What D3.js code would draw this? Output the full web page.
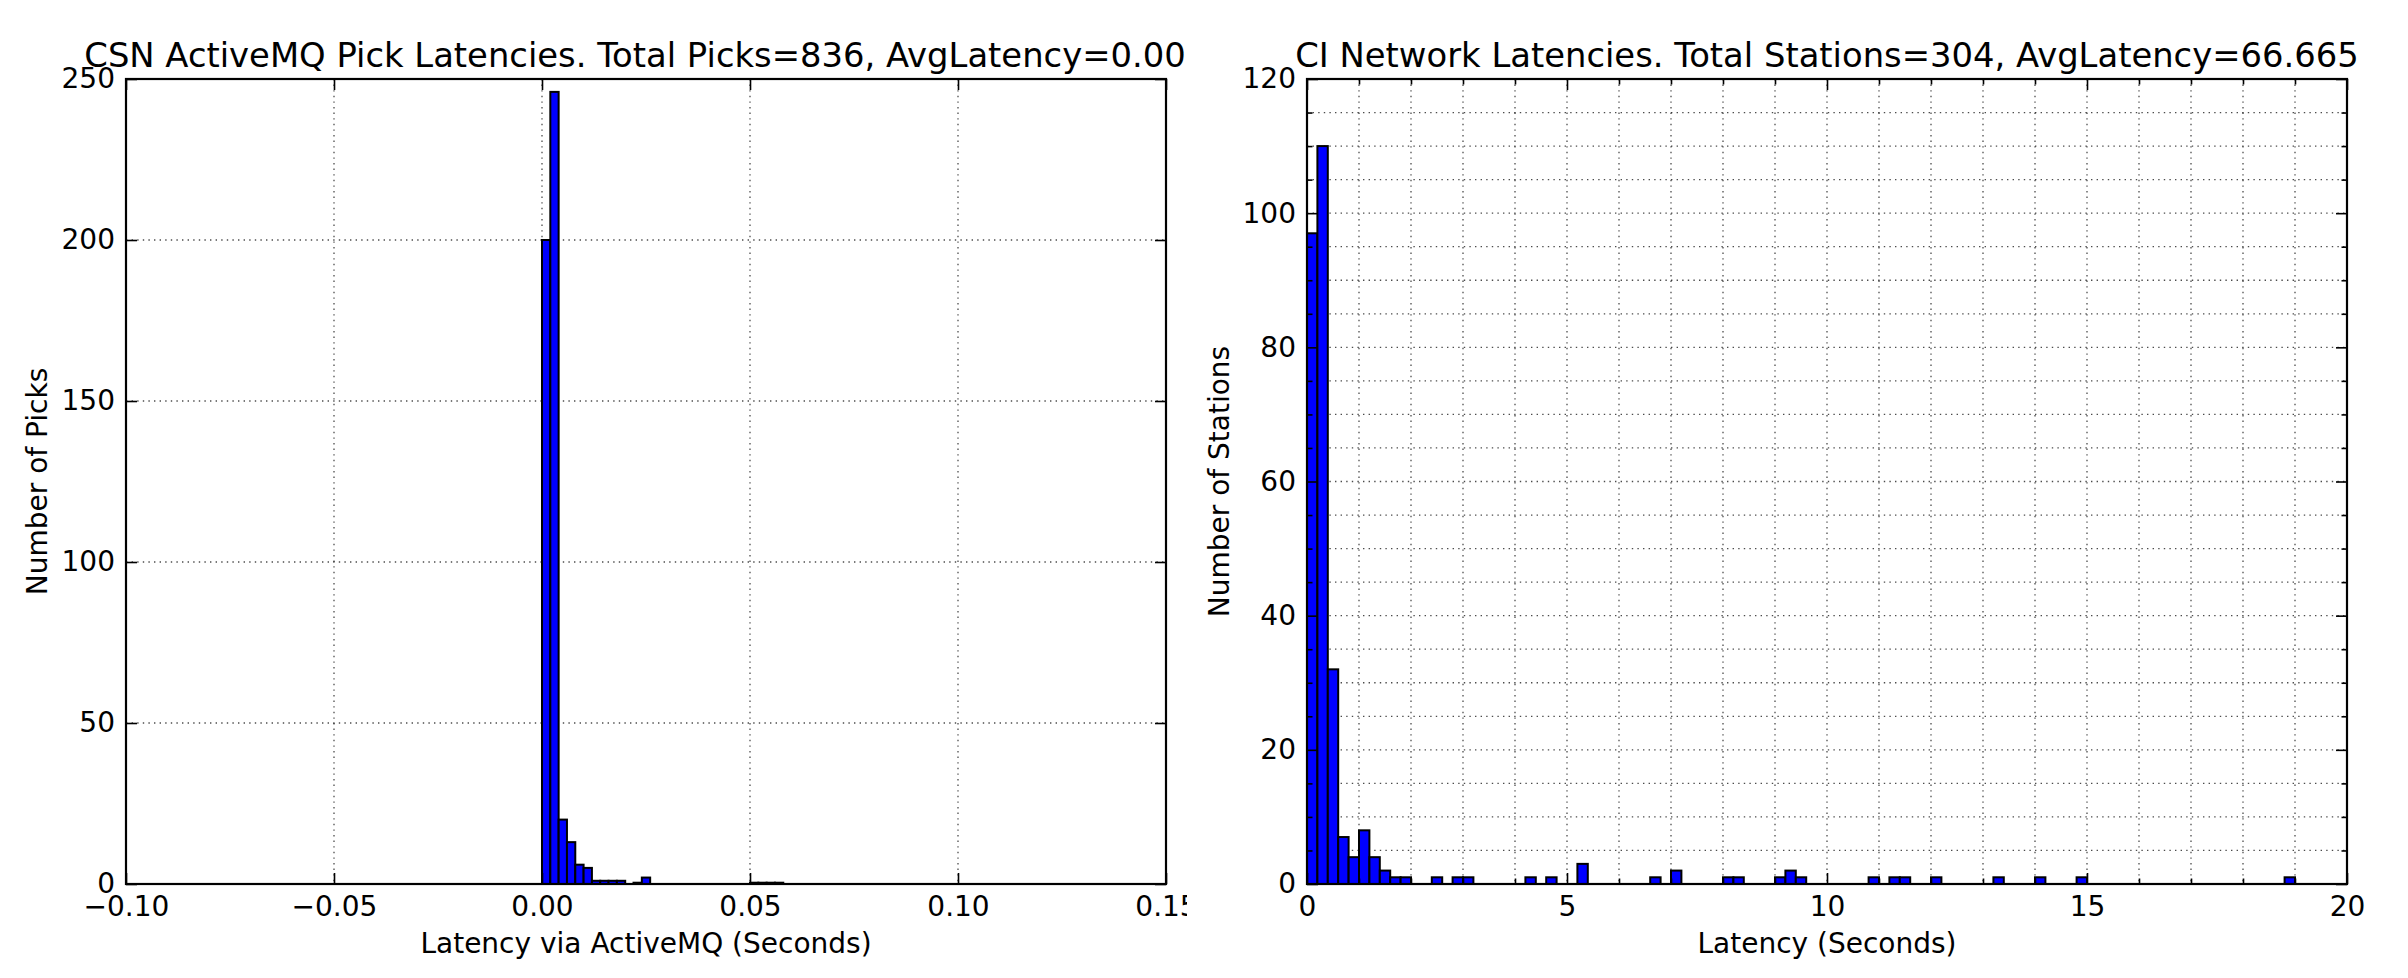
<!DOCTYPE html>
<html><head><meta charset="utf-8">
<script src="https://cdn.jsdelivr.net/npm/d3@7"></script>
<style>
html,body{margin:0;padding:0;background:#fff}
svg{display:block}
text{font-family:"DejaVu Sans",sans-serif;fill:#000}
</style>
</head><body>
<svg id="chart" width="2408" height="978"></svg>
<script>
// ---------------- DATA ----------------
// Left: CSN ActiveMQ pick latencies (seconds), histogram bins of width 0.002 starting at 0
const pickTitle = "CSN ActiveMQ Pick Latencies. Total Picks=836, AvgLatency=0.00";
const pickXLabel = "Latency via ActiveMQ (Seconds)";
const pickYLabel = "Number of Picks";
const pickBinStart = 0.0;
const pickBinWidth = 0.002;
const pickCounts = [200, 246, 20, 13, 6, 5, 1, 1, 1, 1, 0, 0.4, 2, 0, 0, 0, 0, 0, 0, 0, 0, 0, 0, 0, 0, 0.4, 0.4, 0.4, 0.4];
const pickXDomain = [-0.10, 0.15];
const pickXTicks = [-0.10, -0.05, 0.00, 0.05, 0.10, 0.15];
const pickYDomain = [0, 250];
const pickYTicks = [0, 50, 100, 150, 200, 250];

// Right: CI network station latencies (seconds), histogram bins of width 0.2 starting at 0
const stationTitle = "CI Network Latencies. Total Stations=304, AvgLatency=66.665";
const stationXLabel = "Latency (Seconds)";
const stationYLabel = "Number of Stations";
const stationBinStart = 0.0;
const stationBinWidth = 0.2;
const stationCounts = [
  97, 110, 32, 7, 4, 8, 4, 2, 1, 1,
  0, 0, 1, 0, 1, 1, 0, 0, 0, 0,
  0, 1, 0, 1, 0, 0, 3, 0, 0, 0,
  0, 0, 0, 1, 0, 2, 0, 0, 0, 0,
  1, 1, 0, 0, 0, 1, 2, 1, 0, 0,
  0, 0, 0, 0, 1, 0, 1, 1, 0, 0,
  1, 0, 0, 0, 0, 0, 1, 0, 0, 0,
  1, 0, 0, 0, 1, 0, 0, 0, 0, 0,
  0, 0, 0, 0, 0, 0, 0, 0, 0, 0,
  0, 0, 0, 0, 1, 0, 0, 0, 0, 0
];
const stationXDomain = [0, 20];
const stationXTicks = [0, 5, 10, 15, 20];
const stationXMinorTicks = [1,2,3,4,6,7,8,9,11,12,13,14,16,17,18,19];
const stationYDomain = [0, 120];
const stationYTicks = [0, 20, 40, 60, 80, 100, 120];
const stationYMinorTicks = [5,10,15,25,30,35,45,50,55,65,70,75,85,90,95,105,110,115];

// ---------------- LAYOUT ----------------
const svg = d3.select("#chart");
const TICK_FS = 28, TITLE_FS = 33.8, LABEL_FS = 28;

function panel(cfg) {
  const {x0, x1, y0, y1, clipRight} = cfg;
  const root = svg.append("g");
  if (clipRight) {
    const id = "clip" + Math.round(x0);
    svg.append("clipPath").attr("id", id).append("rect")
      .attr("x", 0).attr("y", 0).attr("width", clipRight).attr("height", 978);
    root.attr("clip-path", `url(#${id})`);
  }
  const x = d3.scaleLinear().domain(cfg.xDomain).range([x0, x1]);
  const y = d3.scaleLinear().domain(cfg.yDomain).range([y1, y0]);

  // grid
  const grid = root.append("g");
  const gx = (cfg.xGrid || cfg.xTicks).filter(v => x(v) > x0 + 1 && x(v) < x1 - 1);
  const gy = (cfg.yGrid || cfg.yTicks).filter(v => y(v) > y0 + 1 && y(v) < y1 - 1);
  const gridStyle = s => s.attr("stroke", "#000").attr("stroke-opacity", 0.7)
      .attr("stroke-width", 1.3).attr("stroke-dasharray", "1.4,4.2");
  grid.selectAll(".gv").data(gx).join("line")
    .attr("x1", d => x(d)).attr("x2", d => x(d)).attr("y1", y0).attr("y2", y1).call(gridStyle);
  grid.selectAll(".gh").data(gy).join("line")
    .attr("x1", x0).attr("x2", x1).attr("y1", d => y(d)).attr("y2", d => y(d)).call(gridStyle);

  // bars
  const bins = cfg.counts.map((c, i) => ({
    a: cfg.binStart + i * cfg.binWidth,
    b: cfg.binStart + (i + 1) * cfg.binWidth,
    c
  }));
  root.append("g").selectAll("rect").data(bins).join("rect")
    .attr("x", d => x(d.a)).attr("width", d => x(d.b) - x(d.a))
    .attr("y", d => y(d.c)).attr("height", d => y(0) - y(d.c))
    .attr("fill", "#0000ff").attr("stroke", "#000").attr("stroke-width", 2);

  // axes (ticks inward on all four sides)
  const styleAxis = g => {
    g.select(".domain").remove();
    g.selectAll(".tick line").attr("stroke", "#000").attr("stroke-width", 1.6);
    g.selectAll("text").attr("font-family", "DejaVu Sans").attr("font-size", TICK_FS).attr("fill", "#000");
  };
  root.append("g").attr("transform", `translate(0,${y1})`)
    .call(d3.axisBottom(x).tickValues(cfg.xTicks).tickSizeInner(-11).tickSizeOuter(0)
      .tickPadding(12).tickFormat(cfg.xFmt)).call(styleAxis);
  root.append("g").attr("transform", `translate(0,${y0})`)
    .call(d3.axisTop(x).tickValues(cfg.xTicks).tickSizeInner(-11).tickSizeOuter(0).tickFormat(""))
    .call(styleAxis);
  root.append("g").attr("transform", `translate(${x0},0)`)
    .call(d3.axisLeft(y).tickValues(cfg.yTicks).tickSizeInner(-11).tickSizeOuter(0)
      .tickPadding(11).tickFormat(d3.format("d"))).call(styleAxis);
  root.append("g").attr("transform", `translate(${x1},0)`)
    .call(d3.axisRight(y).tickValues(cfg.yTicks).tickSizeInner(-11).tickSizeOuter(0).tickFormat(""))
    .call(styleAxis);
  if (cfg.xMinor) {
    root.append("g").attr("transform", `translate(0,${y1})`)
      .call(d3.axisBottom(x).tickValues(cfg.xMinor).tickSizeInner(-5.5).tickSizeOuter(0).tickFormat("")).call(styleAxis);
    root.append("g").attr("transform", `translate(0,${y0})`)
      .call(d3.axisTop(x).tickValues(cfg.xMinor).tickSizeInner(-5.5).tickSizeOuter(0).tickFormat("")).call(styleAxis);
  }
  if (cfg.yMinor) {
    root.append("g").attr("transform", `translate(${x0},0)`)
      .call(d3.axisLeft(y).tickValues(cfg.yMinor).tickSizeInner(-5.5).tickSizeOuter(0).tickFormat("")).call(styleAxis);
    root.append("g").attr("transform", `translate(${x1},0)`)
      .call(d3.axisRight(y).tickValues(cfg.yMinor).tickSizeInner(-5.5).tickSizeOuter(0).tickFormat("")).call(styleAxis);
  }

  // frame
  root.append("rect").attr("x", x0).attr("y", y0).attr("width", x1 - x0).attr("height", y1 - y0)
    .attr("fill", "none").attr("stroke", "#000").attr("stroke-width", 2.2);

  // texts
  root.append("text").attr("x", (x0 + x1) / 2 + (cfg.titleDx || 0)).attr("y", 67).attr("text-anchor", "middle")
    .attr("font-size", TITLE_FS).text(cfg.title);
  root.append("text").attr("x", (x0 + x1) / 2).attr("y", 953).attr("text-anchor", "middle")
    .attr("font-size", LABEL_FS).text(cfg.xLabel);
  root.append("text").attr("transform", `translate(${cfg.yLabelX},${(y0 + y1) / 2}) rotate(-90)`)
    .attr("text-anchor", "middle").attr("font-size", LABEL_FS).text(cfg.yLabel);
}

panel({
  x0: 126, x1: 1166, y0: 79, y1: 884, clipRight: 1187, titleDx: -11,
  xDomain: pickXDomain, yDomain: pickYDomain,
  xTicks: pickXTicks, yTicks: pickYTicks,
  xFmt: d3.format(".2f"),
  counts: pickCounts, binStart: pickBinStart, binWidth: pickBinWidth,
  title: pickTitle, xLabel: pickXLabel, yLabel: pickYLabel, yLabelX: 47
});

panel({
  x0: 1307, x1: 2347, y0: 79, y1: 884,
  xDomain: stationXDomain, yDomain: stationYDomain,
  xTicks: stationXTicks, yTicks: stationYTicks,
  xMinor: stationXMinorTicks, yMinor: stationYMinorTicks,
  xGrid: stationXTicks.concat(stationXMinorTicks), yGrid: stationYTicks.concat(stationYMinorTicks),
  xFmt: d3.format("d"),
  counts: stationCounts, binStart: stationBinStart, binWidth: stationBinWidth,
  title: stationTitle, xLabel: stationXLabel, yLabel: stationYLabel, yLabelX: 1229
});
</script>
</body></html>
